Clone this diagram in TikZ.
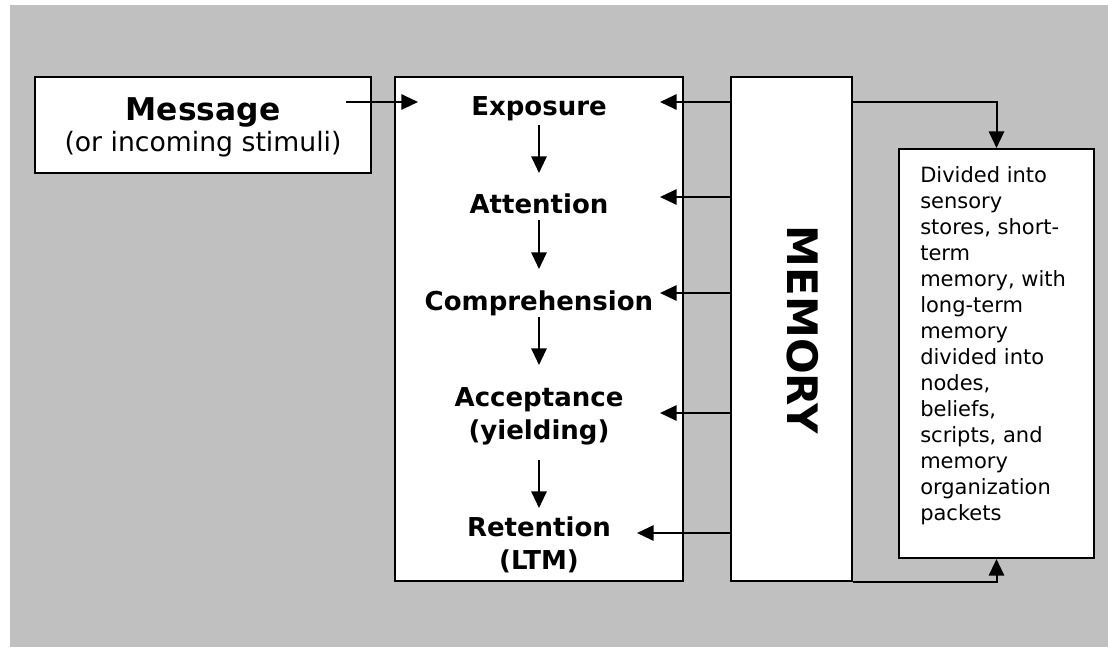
\documentclass[tikz,border=0pt]{standalone}
\usepackage{fontspec}
\setmainfont{DejaVu Sans}
\usetikzlibrary{arrows.meta}
\definecolor{bggray}{RGB}{192,192,192}
\begin{document}
\begin{tikzpicture}[x=0.75pt,y=-0.75pt,
  box/.style={draw=black, line width=1.5pt, fill=white, inner sep=0pt},
  arr/.style={-{Triangle[length=12.5pt,width=11.5pt]}, line width=1.5pt},
  lbl/.style={font=\bfseries\fontsize{19.5}{24.75}\selectfont, align=center, inner sep=0pt}]
\useasboundingbox (0,0) rectangle (1108,647);
\fill[bggray] (10,5) rectangle (1108,647);
% boxes
\node[box, minimum width=252pt, minimum height=72pt] (msg) at (203,125) {};
\node[box, minimum width=216pt, minimum height=378pt] (proc) at (539,329) {};
\node[box, minimum width=90.75pt, minimum height=378pt] (mem) at (791.5,329) {};
\node[box, minimum width=146.25pt, minimum height=306.75pt] (desc) at (996.5,353.5) {};
% texts
\node[inner sep=0pt, anchor=base, font=\bfseries\fontsize{23.5}{28}\selectfont] (msgt) at (203,120) {Message};
\node[inner sep=0pt, anchor=base, font=\fontsize{20}{24}\selectfont] (msgs) at (203,151) {(or incoming stimuli)};
\node[lbl, anchor=base] (expo) at (539,115) {Exposure};
\node[lbl, anchor=base] (att) at (539,213) {Attention};
\node[lbl, anchor=base] (comp) at (539,310) {Comprehension};
\node[lbl] (acc) at (539,416.5) {Acceptance\\(yielding)};
\node[lbl] (ret) at (539,545) {Retention\\(LTM)};
\node[inner sep=0pt, rotate=-90, font=\bfseries\fontsize{31.5}{36}\selectfont] (memt) at (803,330) {MEMORY};
\node[inner sep=0pt, anchor=north west, align=left, font=\fontsize{15.75}{19.5}\selectfont] (desct) at (920,166)
  {Divided into\\sensory\\stores, short-\\term\\memory, with\\long-term\\memory\\divided into\\nodes,\\beliefs,\\scripts, and\\memory\\organization\\packets};
% arrow end points
\coordinate (msgout) at (346,102);
\coordinate (expin) at (418,102);
\coordinate (e1) at (539,125); \coordinate (e2) at (539,173);
\coordinate (a1) at (539,220); \coordinate (a2) at (539,269);
\coordinate (c1) at (539,317); \coordinate (c2) at (539,365);
\coordinate (p1) at (539,460); \coordinate (p2) at (539,508);
\coordinate (m1) at (660,102);
\coordinate (m2) at (660,197);
\coordinate (m3) at (660,293);
\coordinate (m4) at (660,413);
\coordinate (m5) at (637,533);
% connectors
\draw[arr] (msgout) -- (expin);
\draw[arr] (e1) -- (e2);
\draw[arr] (a1) -- (a2);
\draw[arr] (c1) -- (c2);
\draw[arr] (p1) -- (p2);
\draw[arr] (mem.west |- m1) -- (m1);
\draw[arr] (mem.west |- m2) -- (m2);
\draw[arr] (mem.west |- m3) -- (m3);
\draw[arr] (mem.west |- m4) -- (m4);
\draw[arr] (mem.west |- m5) -- (m5);
\draw[arr] (mem.east |- m1) -| (desc.north);
\draw[arr] (mem.south east) -| (desc.south);
\end{tikzpicture}
\end{document}
